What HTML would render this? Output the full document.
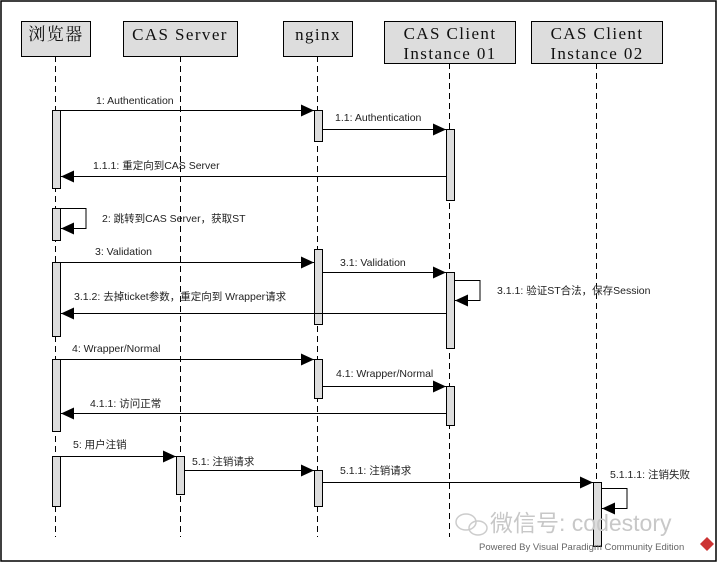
<!DOCTYPE html>
<html><head><meta charset="utf-8"><style>
html,body{margin:0;padding:0;background:#fff}
svg text{font-family:"Liberation Sans","Noto Sans CJK SC",sans-serif;font-size:10.5px;fill:#222}
.h{font-family:"Liberation Serif","Noto Serif CJK SC",serif;font-size:17px;fill:#111;letter-spacing:1.4px}
</style></head><body>
<svg width="720" height="562" xmlns="http://www.w3.org/2000/svg">
<defs><marker id="a" markerWidth="13" markerHeight="12" refX="13" refY="6" orient="auto" markerUnits="userSpaceOnUse"><path d="M0,0 L13,6 L0,12z" fill="#000"/></marker></defs>
<rect x="1" y="1" width="715" height="560" fill="#fff" stroke="#000" stroke-width="1.5"/>
<g stroke="#000" stroke-width="1" stroke-dasharray="6,4">
<line x1="55.5" y1="56" x2="55.5" y2="537"/>
<line x1="180.5" y1="56" x2="180.5" y2="537"/>
<line x1="317.5" y1="56" x2="317.5" y2="537"/>
<line x1="449.5" y1="63" x2="449.5" y2="537"/>
<line x1="596.5" y1="63" x2="596.5" y2="537"/>
</g>
<g fill="#ddd" stroke="#000">
<rect x="21.5" y="21.5" width="69" height="35"/>
<rect x="123.5" y="21.5" width="114" height="35"/>
<rect x="283.5" y="21.5" width="69" height="35"/>
<rect x="384.5" y="21.5" width="131" height="42"/>
<rect x="531.5" y="21.5" width="131" height="42"/>
</g>
<text class="h" x="56" y="40" text-anchor="middle">浏览器</text>
<text class="h" x="180" y="40" text-anchor="middle">CAS Server</text>
<text class="h" x="318" y="40" text-anchor="middle">nginx</text>
<text class="h" x="450" y="39" text-anchor="middle">CAS Client</text>
<text class="h" x="450" y="59" text-anchor="middle">Instance 01</text>
<text class="h" x="597" y="39" text-anchor="middle">CAS Client</text>
<text class="h" x="597" y="59" text-anchor="middle">Instance 02</text>
<g fill="#ddd" stroke="#000">
<rect x="52.5" y="110.5" width="8" height="78"/>
<rect x="52.5" y="208.5" width="8" height="32"/>
<rect x="52.5" y="262.5" width="8" height="74"/>
<rect x="52.5" y="359.5" width="8" height="72"/>
<rect x="52.5" y="456.5" width="8" height="50"/>
<rect x="176.5" y="456.5" width="8" height="38"/>
<rect x="314.5" y="110.5" width="8" height="31"/>
<rect x="314.5" y="249.5" width="8" height="75"/>
<rect x="314.5" y="359.5" width="8" height="39"/>
<rect x="314.5" y="470.5" width="8" height="36"/>
<rect x="446.5" y="129.5" width="8" height="71"/>
<rect x="446.5" y="272.5" width="8" height="76"/>
<rect x="446.5" y="386.5" width="8" height="39"/>
<rect x="593.5" y="482.5" width="8" height="64"/>
</g>
<g stroke="#000" fill="none" marker-end="url(#a)">
<line x1="60" y1="110.5" x2="314" y2="110.5"/>
<line x1="322" y1="129.5" x2="446" y2="129.5"/>
<line x1="446" y1="176.5" x2="61" y2="176.5"/>
<polyline points="60,208.5 86,208.5 86,228.5 61,228.5"/>
<line x1="60" y1="262.5" x2="314" y2="262.5"/>
<line x1="322" y1="272.5" x2="446" y2="272.5"/>
<polyline points="454,280.5 480,280.5 480,300.5 455,300.5"/>
<line x1="446" y1="313.5" x2="61" y2="313.5"/>
<line x1="60" y1="359.5" x2="314" y2="359.5"/>
<line x1="322" y1="386.5" x2="446" y2="386.5"/>
<line x1="446" y1="413.5" x2="61" y2="413.5"/>
<line x1="60" y1="456.5" x2="176" y2="456.5"/>
<line x1="184" y1="470.5" x2="314" y2="470.5"/>
<line x1="322" y1="482.5" x2="593" y2="482.5"/>
<polyline points="601,488.5 627,488.5 627,508.5 602,508.5"/>
</g>
<text x="96" y="104">1: Authentication</text>
<text x="335" y="121">1.1: Authentication</text>
<text x="93" y="169">1.1.1: 重定向到CAS Server</text>
<text x="102" y="222">2: 跳转到CAS Server，获取ST</text>
<text x="95" y="255">3: Validation</text>
<text x="340" y="266">3.1: Validation</text>
<text x="497" y="294">3.1.1: 验证ST合法，保存Session</text>
<text x="74" y="300">3.1.2: 去掉ticket参数，重定向到 Wrapper请求</text>
<text x="72" y="352">4: Wrapper/Normal</text>
<text x="336" y="377">4.1: Wrapper/Normal</text>
<text x="90" y="407">4.1.1: 访问正常</text>
<text x="73" y="448">5: 用户注销</text>
<text x="192" y="465">5.1: 注销请求</text>
<text x="340" y="474">5.1.1: 注销请求</text>
<text x="610" y="478">5.1.1.1: 注销失败</text>
<g fill="none" stroke="#ccc" stroke-width="1.5">
<ellipse cx="466" cy="522" rx="10" ry="8"/>
<ellipse cx="478" cy="528" rx="9" ry="7"/>
</g>
<text x="490" y="531" style="font-size:23px;fill:#c8c8c8">微信号: codestory</text>
<text x="479" y="550" style="font-size:9.5px;fill:#666">Powered By  Visual Paradigm Community Edition</text>
<path d="M707,537 L714,544 L707,551 L700,544z" fill="#c33"/>
</svg>
</body></html>
